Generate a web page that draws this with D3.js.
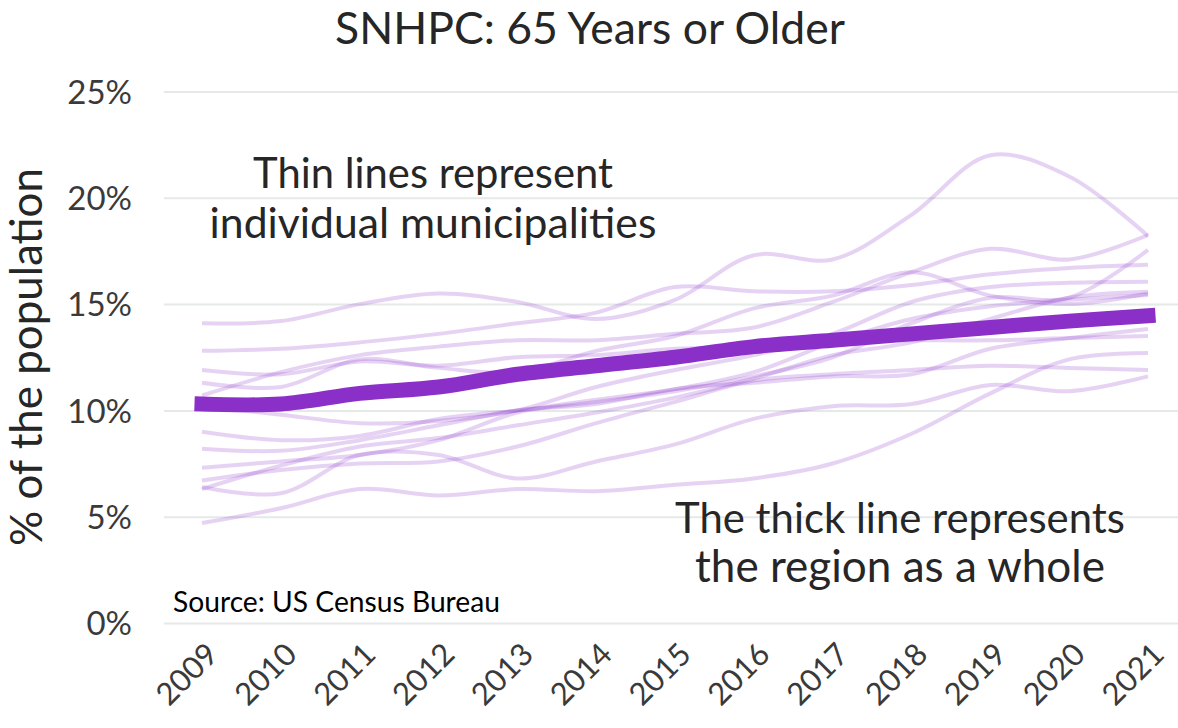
<!DOCTYPE html>
<html>
<head>
<meta charset="utf-8">
<script src="https://cdn.jsdelivr.net/npm/d3@7"></script>
<style>
  html, body { margin: 0; padding: 0; background: #ffffff; }
  svg { display: block; }
  text { font-family: "Lato", "Open Sans", sans-serif; }
</style>
</head>
<body>
<svg id="chart" width="1178" height="728"></svg>
<script>
// ---------- DATA ----------
const years = [2009, 2010, 2011, 2012, 2013, 2014, 2015, 2016, 2017, 2018, 2019, 2020, 2021];
const yTicks = [0, 5, 10, 15, 20, 25];

// Region as a whole (thick line), % of population 65+
const region = [10.3, 10.3, 10.8, 11.1, 11.7, 12.1, 12.5, 13.0, 13.3, 13.6, 13.9, 14.2, 14.45];

// Individual municipalities (thin lines)
const muni01 = [14.1, 14.2, 15.0, 15.5, 15.1, 14.3, 15.2, 17.3, 17.1, 19.2, 22.0, 21.0, 18.2];
const muni02 = [12.8, 12.9, 13.2, 13.6, 14.1, 14.6, 15.8, 15.6, 15.6, 15.9, 16.4, 16.7, 16.85];
const muni03 = [11.9, 11.7, 12.3, 12.1, 12.5, 12.6, 12.9, 13.0, 13.3, 13.3, 13.3, 13.4, 13.5];
const muni04 = [11.3, 11.1, 12.4, 12.0, 11.8, 12.8, 13.5, 14.8, 15.4, 16.5, 15.4, 15.0, 15.5];
const muni05 = [10.7, 11.8, 12.6, 13.0, 13.3, 13.3, 13.6, 13.9, 15.1, 16.5, 17.6, 17.1, 18.25];
const muni06 = [10.2, 9.8, 9.4, 9.5, 10.0, 11.1, 11.9, 12.6, 13.6, 15.1, 15.8, 16.0, 16.05];
const muni07 = [9.0, 8.6, 8.8, 9.6, 10.0, 10.4, 10.9, 11.6, 12.5, 14.1, 15.3, 15.3, 17.55];
const muni08 = [8.2, 8.1, 8.6, 9.3, 10.0, 10.3, 11.0, 11.3, 11.6, 11.7, 12.9, 13.4, 13.83];
const muni09 = [7.3, 7.6, 7.9, 8.6, 9.9, 10.5, 11.0, 11.8, 13.2, 14.3, 14.9, 15.2, 15.43];
const muni10 = [6.7, 7.2, 7.5, 7.6, 8.3, 9.4, 10.4, 11.4, 11.7, 11.9, 12.1, 12.0, 11.9];
const muni11 = [6.3, 7.4, 8.3, 8.7, 9.3, 9.9, 10.6, 11.5, 12.6, 13.2, 14.3, 15.3, 15.58];
const muni12 = [6.4, 6.1, 7.9, 7.9, 6.8, 7.6, 8.4, 9.6, 10.2, 10.3, 11.2, 10.9, 11.6];
const muni13 = [4.7, 5.4, 6.3, 6.0, 6.3, 6.2, 6.5, 6.8, 7.5, 8.9, 10.8, 12.4, 12.7];

const municipalities = [muni01, muni02, muni03, muni04, muni05, muni06, muni07,
                        muni08, muni09, muni10, muni11, muni12, muni13];

const titleText = "SNHPC: 65 Years or Older";
const yAxisTitle = "% of the population";
const noteThin = ["Thin lines represent", "individual municipalities"];
const noteThick = ["The thick line represents", "the region as a whole"];
const sourceText = "Source: US Census Bureau";

// ---------- LAYOUT ----------
const svg = d3.select("#chart");
const W = 1178, H = 728;
const purple = "#8b2fc9";
const textDark = "#262626";

const x = d3.scaleLinear().domain([2009, 2021]).range([202, 1148]);
const y = d3.scaleLinear().domain([0, 25]).range([623, 91.5]);

function fitWidth(sel, target) {
  const node = sel.node();
  const fs = parseFloat(sel.attr("font-size"));
  const w = node.getComputedTextLength();
  if (w > 0) sel.attr("font-size", fs * target / w);
}

// Gridlines + y tick labels
const yAxisG = svg.append("g")
  .attr("transform", "translate(164,0)")
  .call(d3.axisLeft(y).tickValues(yTicks).tickSize(-(W - 164)).tickFormat(d => d + "%").tickPadding(32));
yAxisG.select(".domain").remove();
yAxisG.selectAll(".tick line").attr("stroke", "#e5e9e8").attr("stroke-width", 2);
yAxisG.selectAll(".tick text")
  .attr("font-size", 33).attr("fill", "#3a3a3a")
  .attr("font-family", "Lato, sans-serif")
  .attr("dy", "0.36em");

// X axis labels (rotated)
const xAxisG = svg.append("g")
  .attr("transform", "translate(0,623)")
  .call(d3.axisBottom(x).tickValues(years).tickFormat(d3.format("d")).tickSize(0));
xAxisG.select(".domain").remove();
xAxisG.selectAll(".tick text")
  .attr("font-size", 31).attr("fill", "#3a3a3a")
  .attr("font-family", "Lato, sans-serif")
  .attr("text-anchor", "end")
  .attr("transform", "translate(2,18) rotate(-45)")
  .attr("dy", "0.7em")
  .attr("y", 0);

// Lines
const line = d3.line()
  .x((d, i) => x(years[i]))
  .y(d => y(d))
  .curve(d3.curveCatmullRom.alpha(0.5));

svg.append("g").selectAll("path.muni")
  .data(municipalities)
  .join("path")
  .attr("class", "muni")
  .attr("d", line)
  .attr("fill", "none")
  .attr("stroke", purple)
  .attr("stroke-opacity", 0.21)
  .attr("stroke-width", 4);

svg.append("path")
  .datum(region)
  .attr("d", line)
  .attr("fill", "none")
  .attr("stroke", purple)
  .attr("stroke-width", 15)
  .attr("stroke-linecap", "square");

// Title
const t = svg.append("text")
  .attr("x", 590).attr("y", 44)
  .attr("text-anchor", "middle")
  .attr("font-size", 40).attr("fill", textDark)
  .text(titleText);
fitWidth(t, 510);

// Y axis title
const yt = svg.append("text")
  .attr("transform", "translate(42,357) rotate(-90)")
  .attr("text-anchor", "middle")
  .attr("font-size", 34).attr("fill", textDark)
  .text(yAxisTitle);
fitWidth(yt, 378);

// Annotations
const n1 = svg.append("text").attr("x", 433).attr("y", 188).attr("text-anchor", "middle")
  .attr("font-size", 38).attr("fill", textDark).text(noteThin[0]);
fitWidth(n1, 360);
const n2 = svg.append("text").attr("x", 433).attr("y", 238).attr("text-anchor", "middle")
  .attr("font-size", 38).attr("fill", textDark).text(noteThin[1]);
fitWidth(n2, 447);
const n3 = svg.append("text").attr("x", 900).attr("y", 533).attr("text-anchor", "middle")
  .attr("font-size", 38).attr("fill", textDark).text(noteThick[0]);
fitWidth(n3, 450);
const n4 = svg.append("text").attr("x", 900).attr("y", 582).attr("text-anchor", "middle")
  .attr("font-size", 38).attr("fill", textDark).text(noteThick[1]);
fitWidth(n4, 410);

const s = svg.append("text").attr("x", 173).attr("y", 612)
  .attr("font-size", 24).attr("fill", "#000").text(sourceText);
fitWidth(s, 327);
</script>
</body>
</html>
